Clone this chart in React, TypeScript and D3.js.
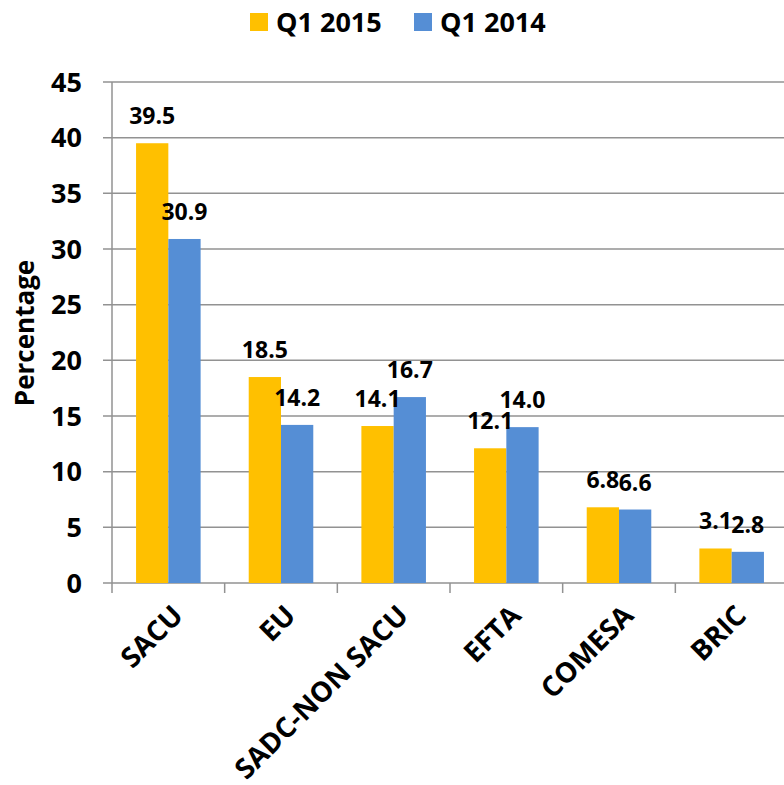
import React, { useEffect, useRef } from 'react';
import * as d3 from 'd3';

const categories = ['SACU', 'EU', 'SADC-NON SACU', 'EFTA', 'COMESA', 'BRIC'];
const seriesNames = ['Q1 2015', 'Q1 2014'];
const q12015 = [39.5, 18.5, 14.1, 12.1, 6.8, 3.1];
const q12014 = [30.9, 14.2, 16.7, 14.0, 6.6, 2.8];
const yTicks = [0, 5, 10, 15, 20, 25, 30, 35, 40, 45];
const colors = ['#FFC000', '#558ED5'];

const FONT = "'Open Sans', sans-serif";

const App = () => {
  const svgRef = useRef<SVGSVGElement>(null);

  useEffect(() => {
    const svg = d3.select(svgRef.current);
    svg.selectAll('*').remove();

    const left = 112;
    const right = 788;
    const top = 82;
    const bottom = 583;

    const x = d3.scaleBand().domain(categories).range([left, right]).padding(0);
    const xInner = d3
      .scaleBand()
      .domain(seriesNames)
      .range([0, x.bandwidth()])
      .paddingInner(0)
      .paddingOuter(0.745);
    const y = d3.scaleLinear().domain([0, 45]).range([bottom, top]);

    // gridlines
    svg
      .append('g')
      .selectAll('line')
      .data(yTicks)
      .join('line')
      .attr('x1', left - 9)
      .attr('x2', 784)
      .attr('y1', (d) => y(d))
      .attr('y2', (d) => y(d))
      .attr('stroke', '#929292')
      .attr('stroke-width', 1.5);

    // y axis line
    svg
      .append('line')
      .attr('x1', left)
      .attr('x2', left)
      .attr('y1', top)
      .attr('y2', bottom)
      .attr('stroke', '#929292')
      .attr('stroke-width', 1.5);

    // x tick marks
    svg
      .append('g')
      .selectAll('line')
      .data(categories)
      .join('line')
      .attr('x1', (d) => x(d)!)
      .attr('x2', (d) => x(d)!)
      .attr('y1', bottom)
      .attr('y2', bottom + 10)
      .attr('stroke', '#929292')
      .attr('stroke-width', 1.5);

    // y tick labels
    svg
      .append('g')
      .selectAll('text')
      .data(yTicks)
      .join('text')
      .attr('x', 82)
      .attr('y', (d) => y(d))
      .attr('dy', '0.36em')
      .attr('text-anchor', 'end')
      .attr('font-family', FONT)
      .attr('font-weight', 700)
      .attr('font-size', 27)
      .text((d) => d);

    // bars
    const seriesData = [q12015, q12014];
    seriesData.forEach((vals, si) => {
      svg
        .append('g')
        .selectAll('rect')
        .data(vals)
        .join('rect')
        .attr('x', (d, i) => x(categories[i])! + xInner(seriesNames[si])!)
        .attr('y', (d) => y(d))
        .attr('width', xInner.bandwidth())
        .attr('height', (d) => bottom - y(d))
        .attr('fill', colors[si]);
    });

    // value labels
    seriesData.forEach((vals, si) => {
      svg
        .append('g')
        .selectAll('text')
        .data(vals)
        .join('text')
        .attr('x', (d, i) => x(categories[i])! + xInner(seriesNames[si])! + xInner.bandwidth() / 2)
        .attr('y', (d) => y(d) - 19)
        .attr('text-anchor', 'middle')
        .attr('font-family', FONT)
        .attr('font-weight', 700)
        .attr('font-size', 23)
        .attr('fill', '#000')
        .text((d) => d.toFixed(1));
    });

    // category labels
    svg
      .append('g')
      .selectAll('text')
      .data(categories)
      .join('text')
      .attr('transform', (d) => `translate(${x(d)! + x.bandwidth() / 2 + 2},${bottom + 20}) rotate(-45)`)
      .attr('text-anchor', 'end')
      .attr('dy', '0.72em')
      .attr('font-family', FONT)
      .attr('font-weight', 700)
      .attr('font-size', 28)
      .text((d) => d);

    // y axis title
    svg
      .append('text')
      .attr('transform', `translate(34,333) rotate(-90)`)
      .attr('text-anchor', 'middle')
      .attr('font-family', FONT)
      .attr('font-weight', 700)
      .attr('font-size', 26)
      .text('Percentage');

    // legend
    const legendX = [250, 414];
    seriesNames.forEach((name, i) => {
      svg
        .append('rect')
        .attr('x', legendX[i])
        .attr('y', 13)
        .attr('width', 18)
        .attr('height', 18)
        .attr('fill', colors[i]);
      svg
        .append('text')
        .attr('x', legendX[i] + 26)
        .attr('y', 22)
        .attr('dy', '0.36em')
        .attr('font-family', FONT)
        .attr('font-weight', 700)
        .attr('font-size', 27)
        .text(name);
    });
  }, []);

  return (
    <svg
      ref={svgRef}
      width={784}
      height={785}
      style={{ position: 'absolute', left: 0, top: 0, background: '#fff' }}
    ></svg>
  );
};

export default App;
